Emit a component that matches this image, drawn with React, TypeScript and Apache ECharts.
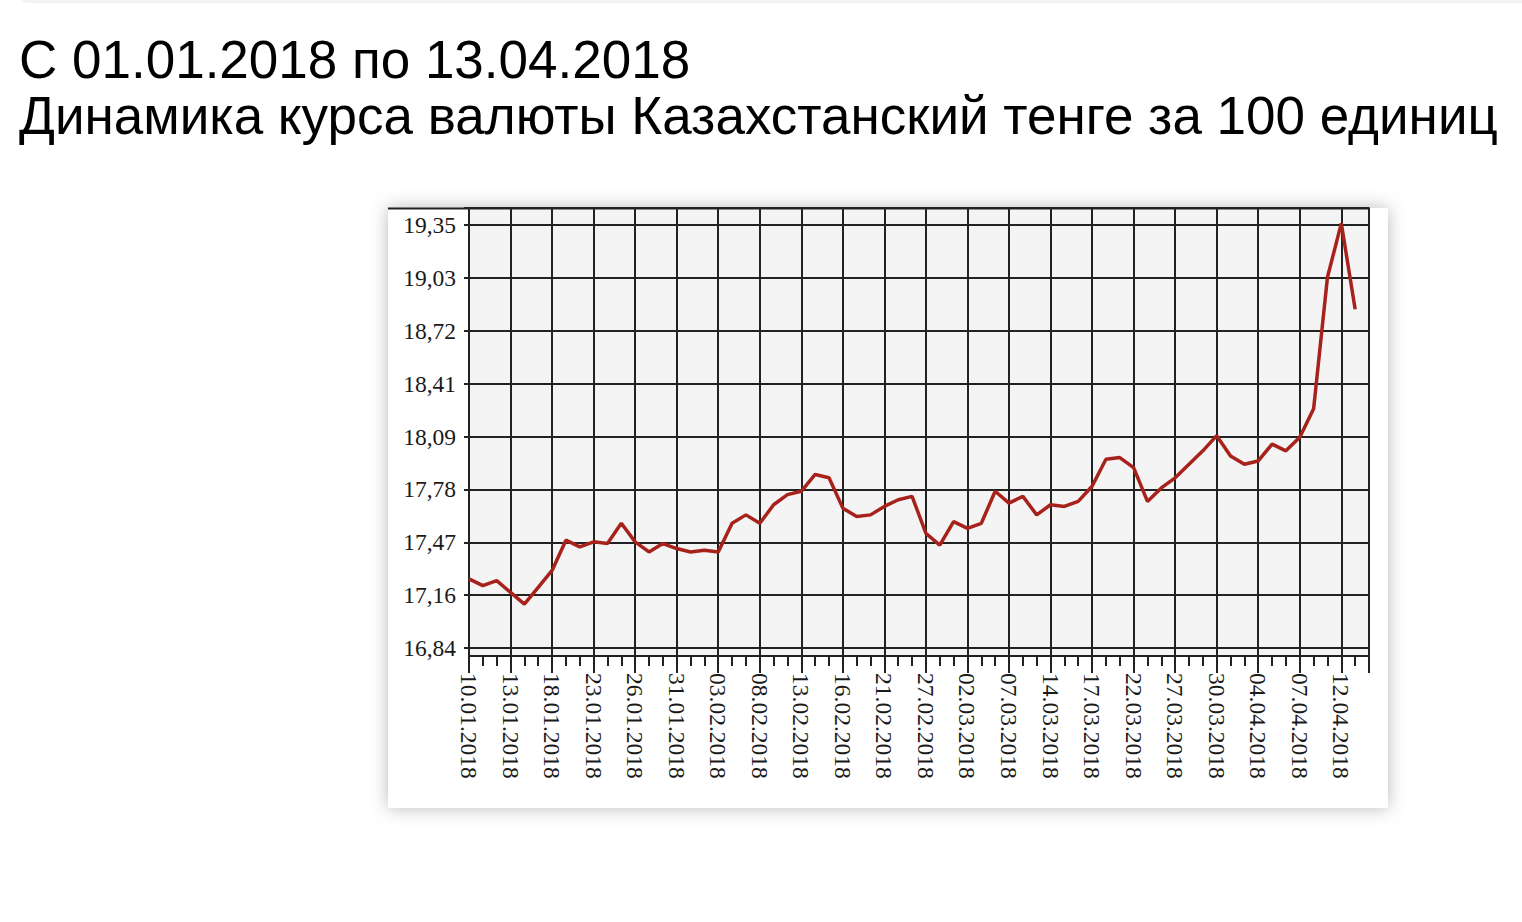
import React, { useEffect, useRef } from "react";
import * as echarts from "echarts";

const titleLine1 = "С 01.01.2018 по 13.04.2018";
const titleLine2 = "Динамика курса валюты Казахстанский тенге за 100 единиц";

const dates = [
  "10.01", "11.01", "12.01", "13.01", "16.01", "17.01", "18.01", "19.01", "20.01", "23.01",
  "24.01", "25.01", "26.01", "27.01", "30.01", "31.01", "01.02", "02.02", "03.02", "06.02",
  "07.02", "08.02", "09.02", "10.02", "13.02", "14.02", "15.02", "16.02", "17.02", "20.02",
  "21.02", "22.02", "24.02", "27.02", "28.02", "01.03", "02.03", "03.03", "06.03", "07.03",
  "10.03", "13.03", "14.03", "15.03", "16.03", "17.03", "20.03", "21.03", "22.03", "23.03",
  "24.03", "27.03", "28.03", "29.03", "30.03", "31.03", "03.04", "04.04", "05.04", "06.04",
  "07.04", "10.04", "11.04", "12.04", "13.04",
].map((d) => d + ".2018");

const rates = [
  17.25, 17.21, 17.24, 17.17, 17.1, 17.2, 17.3, 17.48, 17.44, 17.47,
  17.46, 17.58, 17.47, 17.41, 17.46, 17.43, 17.41, 17.42, 17.41, 17.58,
  17.63, 17.58, 17.69, 17.75, 17.77, 17.87, 17.85, 17.67, 17.62, 17.63,
  17.68, 17.72, 17.74, 17.52, 17.45, 17.59, 17.55, 17.58, 17.77, 17.7,
  17.74, 17.63, 17.69, 17.68, 17.71, 17.8, 17.96, 17.97, 17.91, 17.71,
  17.79, 17.85, 17.93, 18.01, 18.1, 17.98, 17.93, 17.95, 18.05, 18.01,
  18.09, 18.26, 19.04, 19.36, 18.85,
];

const yTickLabels = ["16,84", "17,16", "17,47", "17,78", "18,09", "18,41", "18,72", "19,03", "19,35"];
const yMin = 16.84;
const yStep = 0.31375;
const yMax = 19.451;

// one extra empty slot at the right end of the axis
const categories = [...dates, ""];
const lastIndex = categories.length - 1;

const GRID_COLOR = "#222222";
const LABEL_FONT = "'Liberation Serif', 'DejaVu Serif', serif";

export default function App() {
  const ref = useRef<HTMLDivElement>(null);

  useEffect(() => {
    if (!ref.current) return;
    const chart = echarts.init(ref.current, null, { renderer: "svg" });
    const major = (i: number) => i % 3 === 0 || i === lastIndex;
    chart.setOption({
      animation: false,
      graphic: [
        {
          type: "rect",
          z: -10,
          silent: true,
          shape: { x: 20, y: -12, width: 1530, height: 15, r: 8 },
          style: { fill: "#f3f3f3" },
        },
        {
          type: "rect",
          z: -10,
          silent: true,
          shape: { x: 388, y: 208, width: 1000, height: 600 },
          style: { fill: "#ffffff", shadowBlur: 18, shadowColor: "rgba(0,0,0,0.28)" },
        },
        {
          type: "text",
          x: 19,
          y: 59,
          style: {
            text: titleLine1,
            font: "53px 'Liberation Sans', Arial, sans-serif",
            fill: "#000",
            verticalAlign: "middle",
          },
        },
        {
          type: "text",
          x: 19,
          y: 115,
          style: {
            text: titleLine2,
            font: "53px 'Liberation Sans', Arial, sans-serif",
            fill: "#000",
            verticalAlign: "middle",
          },
        },
        {
          type: "line",
          z: 50,
          silent: true,
          shape: { x1: 388, y1: 208.5, x2: 1370, y2: 208.5 },
          style: { stroke: GRID_COLOR, lineWidth: 2 },
        },
      ],
      grid: [
        { left: 469, right: 153, top: 208, bottom: 274, show: false },
        {
          left: 469,
          right: 153,
          top: 208,
          bottom: 266,
          show: true,
          backgroundColor: "#f4f4f4",
          borderWidth: 0,
        },
      ],
      xAxis: [
        {
          gridIndex: 0,
          type: "category",
          data: categories,
          boundaryGap: false,
          axisLine: { show: false },
          axisTick: { show: false },
          axisLabel: { show: false },
          splitLine: { show: false },
        },
        {
          gridIndex: 1,
          type: "category",
          data: categories,
          boundaryGap: false,
          position: "bottom",
          axisLine: { show: true, lineStyle: { color: GRID_COLOR, width: 2 } },
          axisTick: {
            show: true,
            interval: 0,
            length: 10,
            lineStyle: { color: GRID_COLOR, width: 2 },
          },
          axisLabel: {
            show: true,
            interval: 2,
            rotate: -90,
            margin: 17,
            fontFamily: LABEL_FONT,
            fontSize: 23.5,
            color: "#1a1a1a",
          },
          splitLine: {
            show: true,
            interval: (i: number) => major(i),
            lineStyle: { color: GRID_COLOR, width: 2 },
          },
        },
        {
          gridIndex: 1,
          type: "category",
          data: categories,
          boundaryGap: false,
          position: "bottom",
          axisLine: { show: false },
          axisTick: {
            show: true,
            interval: (i: number) => major(i),
            length: 17,
            lineStyle: { color: GRID_COLOR, width: 2 },
          },
          axisLabel: { show: false },
          splitLine: { show: false },
        },
      ],
      yAxis: [
        {
          gridIndex: 0,
          type: "value",
          min: yMin,
          max: yMax,
          interval: yStep,
          axisLine: { show: true, lineStyle: { color: GRID_COLOR, width: 2 } },
          axisTick: { show: true, length: 5, lineStyle: { color: GRID_COLOR, width: 2 } },
          axisLabel: {
            margin: 13,
            fontFamily: LABEL_FONT,
            fontSize: 23.5,
            color: "#1a1a1a",
            formatter: (_v: number, i: number) => (i < yTickLabels.length ? yTickLabels[i] : ""),
          },
          splitLine: { show: true, lineStyle: { color: GRID_COLOR, width: 2 } },
        },
        {
          gridIndex: 1,
          type: "value",
          min: 0,
          max: 1,
          show: false,
        },
      ],
      series: [
        {
          type: "line",
          xAxisIndex: 0,
          yAxisIndex: 0,
          data: rates,
          symbol: "none",
          z: 10,
          lineStyle: { color: "#a8221c", width: 3.5 },
        },
      ],
    });
    return () => chart.dispose();
  }, []);

  return (
    <div
      ref={ref}
      style={{ position: "absolute", left: 0, top: 0, width: 1522, height: 922 }}
    />
  );
}
